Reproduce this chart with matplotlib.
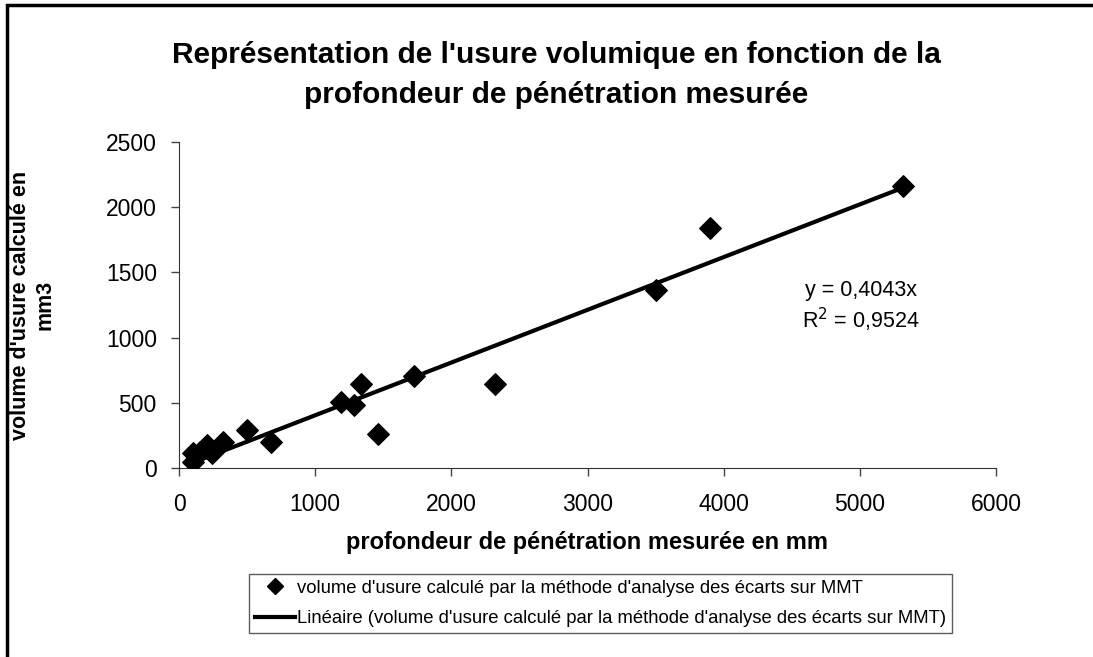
import matplotlib
matplotlib.use("Agg")
import matplotlib.pyplot as plt
from matplotlib.patches import Rectangle
from matplotlib.lines import Line2D

plt.rcParams['font.family'] = ['Liberation Sans', 'DejaVu Sans']

# valeurs
profondeur = [105, 105, 154, 204, 240, 326, 498, 674, 1191, 1282, 1336, 1458,
              1723, 2324, 3500, 3899, 5314]
volume = [48, 113, 125, 176, 113, 202, 291, 197, 504, 483, 642, 258,
          708, 642, 1365, 1838, 2163]
pente = 0.4043
r2 = 0.9524

x_ticks = [0, 1000, 2000, 3000, 4000, 5000, 6000]
y_ticks = [0, 500, 1000, 1500, 2000, 2500]

fig = plt.figure(figsize=(10.93, 6.57), dpi=100)
ax = fig.add_axes([179/1093, 1-468/657, (996-179)/1093, (468-142)/657])

ax.scatter(profondeur, volume, marker='D', s=120, color='black', zorder=3,
           label="volume d'usure calculé par la méthode d'analyse des écarts sur MMT")
xl = [min(profondeur), max(profondeur)]
ax.plot(xl, [pente * v for v in xl], color='black', lw=3, zorder=2,
        label="Linéaire (volume d'usure calculé par la méthode d'analyse des écarts sur MMT)")

ax.set_xlim(0, 6000)
ax.set_ylim(0, 2500)
ax.set_xticks(x_ticks)
ax.set_yticks(y_ticks)
ax.tick_params(labelsize=16.5, direction='out', length=6, width=1, color='#444444')
ax.tick_params(axis='x', pad=12)
ax.tick_params(axis='y', pad=10)
ax.spines['top'].set_visible(False)
ax.spines['right'].set_visible(False)
ax.spines['left'].set_color('#333333')
ax.spines['bottom'].set_color('#333333')

ax.text(0.835, 0.546, "y = 0,%dx" % round(pente * 10000), transform=ax.transAxes,
        fontsize=15.5, ha='center', va='center')
ax.text(0.835, 0.454, "R$^2$ = 0,%d" % round(r2 * 10000), transform=ax.transAxes,
        fontsize=15.5, ha='center', va='center')

fig.text(556/1093, 1-55/657, "Représentation de l'usure volumique en fonction de la",
         ha='center', va='center', fontsize=21.5, fontweight='bold')
fig.text(556/1093, 1-95/657, "profondeur de pénétration mesurée",
         ha='center', va='center', fontsize=21.5, fontweight='bold')

fig.text(587/1093, 1-542/657, "profondeur de pénétration mesurée en mm",
         ha='center', va='center', fontsize=17, fontweight='bold')
fig.text(33/1093, 1-305/657, "volume d'usure calculé en\nmm3", rotation=90,
         ha='center', va='center', fontsize=15.5, fontweight='bold',
         linespacing=1.2)

handles = [Line2D([], [], marker='D', color='black', ls='none', markersize=8),
           Line2D([], [], color='black', lw=3)]
labels = ["volume d'usure calculé par la méthode d'analyse des écarts sur MMT",
          "Linéaire (volume d'usure calculé par la méthode d'analyse des écarts sur MMT)"]
leg = fig.legend(handles, labels, loc='upper left',
                 bbox_to_anchor=(249/1093, 1-574/657), fontsize=13.3,
                 frameon=True, fancybox=False, edgecolor='#333333',
                 handlelength=2.2, handletextpad=0.1, borderpad=0.3,
                 borderaxespad=0, labelspacing=0.75)
leg.get_frame().set_linewidth(1)

fig.patches.append(Rectangle((7/1093, -0.1), 1.2, 1-5/657 + 0.1,
                             transform=fig.transFigure, fill=False,
                             edgecolor='black', lw=2.5))

fig.savefig("out.png", dpi=100)
